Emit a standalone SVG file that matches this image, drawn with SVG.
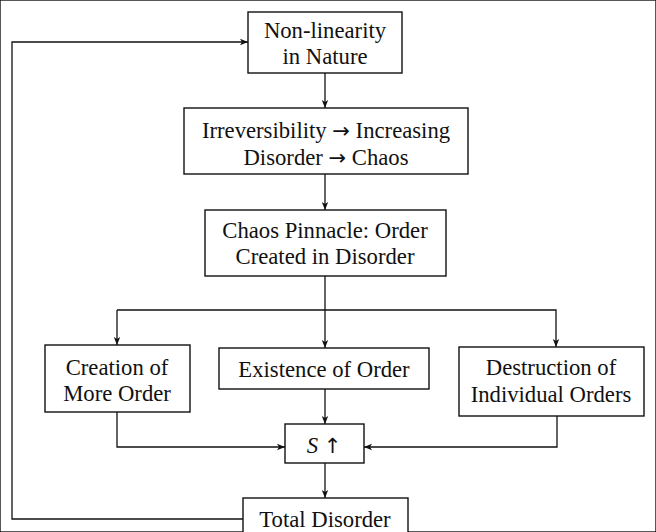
<svg xmlns="http://www.w3.org/2000/svg" width="656" height="532" viewBox="0 0 656 532">
<style>
rect{fill:#fff;stroke:#111;stroke-width:1.4}
text{font-family:'Liberation Serif','Times New Roman',serif;font-size:22.7px;fill:#111;text-anchor:middle}
.ar{font-family:'DejaVu Sans',sans-serif;font-size:21px}
.c path{fill:none;stroke:#111;stroke-width:1.3}
</style>
<defs>
<marker id="a" viewBox="0 0 10 10" refX="10" refY="5" markerWidth="8" markerHeight="8" markerUnits="userSpaceOnUse" orient="auto"><path d="M0,1 L10,5 L0,9 L2.5,5 Z" fill="#111"/></marker>
</defs>
<rect width="656" height="532" fill="#fff" stroke="none"/>
<g class="c">
<path d="M325,73 V108" marker-end="url(#a)"/>
<path d="M325,174 V210" marker-end="url(#a)"/>
<path d="M325,276 V310"/>
<path d="M117,310 H556 V347" marker-end="url(#a)"/>
<path d="M117,310 V345" marker-end="url(#a)"/>
<path d="M325,310 V348" marker-end="url(#a)"/>
<path d="M325,389 V424" marker-end="url(#a)"/>
<path d="M117,412 V447 H285" marker-end="url(#a)"/>
<path d="M557,416 V447 H364" marker-end="url(#a)"/>
<path d="M325,463 V498" marker-end="url(#a)"/>
<path d="M243,519 H12 V42 H248" marker-end="url(#a)"/>
</g>
<g id="n1"><rect x="248" y="12" width="154" height="61"/><text x="325" y="38">Non-linearity</text><text x="325" y="64">in Nature</text></g>
<g id="n2"><rect x="184" y="108" width="284" height="66"/><text x="326" y="138">Irreversibility <tspan class="ar">→</tspan> Increasing</text><text x="326" y="165">Disorder <tspan class="ar">→</tspan> Chaos</text></g>
<g id="n3"><rect x="205" y="210" width="241" height="66"/><text x="325" y="238">Chaos Pinnacle: Order</text><text x="325" y="264">Created in Disorder</text></g>
<g id="n4"><rect x="45" y="345" width="145" height="67"/><text x="117" y="375">Creation of</text><text x="117" y="401">More Order</text></g>
<g id="n5"><rect x="219" y="348" width="210" height="41"/><text x="324" y="377">Existence of Order</text></g>
<g id="n6"><rect x="459" y="347" width="185" height="69"/><text x="551" y="375">Destruction of</text><text x="551" y="402">Individual Orders</text></g>
<g id="n7"><rect x="285" y="424" width="79" height="39"/><text x="324" y="453"><tspan font-style="italic">S</tspan> <tspan class="ar">↑</tspan></text></g>
<g id="n8"><rect x="243" y="498" width="165" height="40"/><text x="325" y="527">Total Disorder</text></g>
</svg>
